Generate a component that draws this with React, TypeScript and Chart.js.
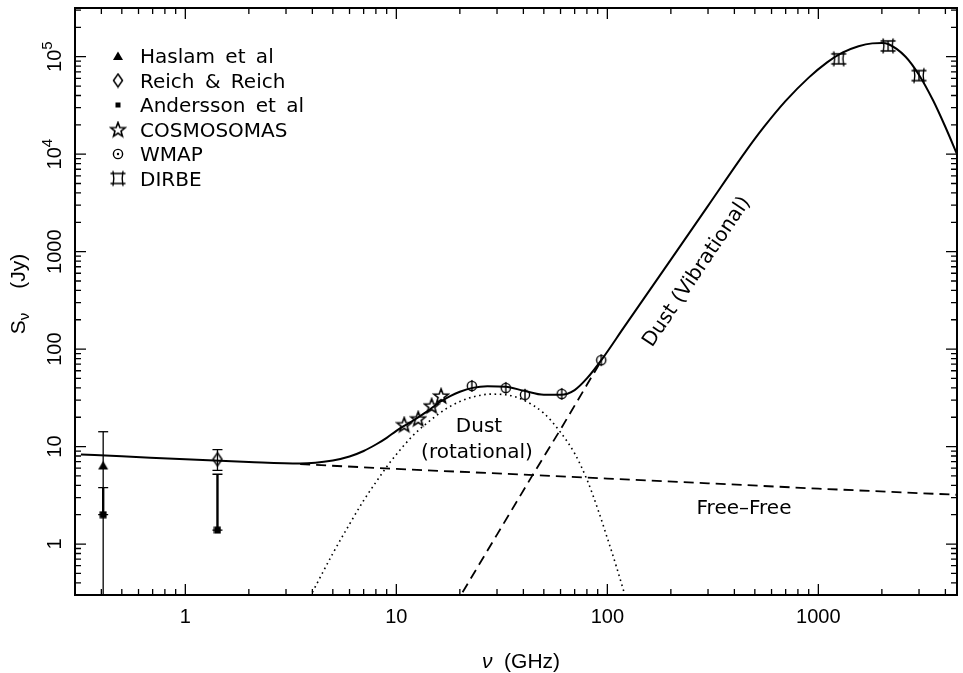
import React, { useEffect, useRef } from 'react';
import { Chart, registerables } from 'chart.js';

Chart.register(...registerables);

// ---------- axis limits ----------
const X_MIN = 0.321;
const X_MAX = 4540;
const Y_MIN = 0.324;
const Y_MAX = 3.16e5;

// ---------- model curves (GHz, Jy) ----------
const totalFreq = [0.32, 0.5, 1, 2, 3.5, 5, 6, 7, 8, 9, 10, 11, 12, 14, 16, 18, 20, 23, 27, 33, 40, 50, 60, 70, 80, 94, 120, 150, 200, 300, 450, 550, 700, 900, 1100, 1300, 1550, 1800, 2000, 2141, 2590, 3000, 3500, 4000, 4540];
const totalFlux = [8.3, 7.95, 7.4, 6.95, 6.7, 7.2, 7.9, 9.0, 10.5, 12.3, 14.5, 16.5, 18.5, 23, 28.5, 33, 36.5, 40, 41.5, 41, 37.5, 34, 34, 38, 50, 78, 168, 337, 829, 2950, 10500, 18800, 35200, 61000, 87500, 110000, 128000, 137000, 138000, 135000, 100000, 65000, 35500, 19000, 10000];

const freeFreeFreq = [3.5, 10, 30, 100, 300, 1000, 4540];
const freeFreeFlux = [6.6, 5.9, 5.3, 4.7, 4.2, 3.7, 3.2];

const rotFreq = [4, 5, 6, 7, 8, 9, 10, 12, 14, 17, 20, 24, 28, 33, 40, 50, 60, 70, 80, 90, 100, 110, 120];
const rotFlux = [0.32, 0.8, 1.6, 2.8, 4.3, 6.2, 8.3, 13, 17.5, 24, 29, 33, 34.5, 34, 30, 22, 14, 8.5, 4.6, 2.3, 1.15, 0.6, 0.32];

const vibFreq = [20.6, 30, 44, 60, 80, 94];
const vibFlux = [0.32, 1.25, 5.0, 15, 43, 77];

// ---------- measurements ----------
const haslamFreq = [0.408];
const haslamFlux = [6.4];
const haslamErrLow = [0.01];
const haslamErrHigh = [14.2];

const reichFreq = [1.42];
const reichFlux = [7.4];
const reichErrLow = [5.7];
const reichErrHigh = [9.3];

const anderssonFreq = [0.408, 1.42];
const anderssonFlux = [2.0, 1.39];
const anderssonErrLow = [2.0, 1.39];
const anderssonErrHigh = [3.8, 5.2];

const cosmoFreq = [10.9, 12.7, 14.7, 16.3];
const cosmoFlux = [16.8, 19.3, 26.2, 33.1];

const wmapFreq = [22.8, 33.0, 40.7, 60.8, 93.5];
const wmapFlux = [41.9, 40.0, 34.0, 34.7, 77.0];

const dirbeFreq = [1249, 2141, 2998];
const dirbeFlux = [95000, 129000, 64000];

// ---------- ticks / labels ----------
const xTickValues = [1, 10, 100, 1000];
const xTickLabels = ['1', '10', '100', '1000'];
const yTickValues = [1, 10, 100, 1000, 1e4, 1e5];
const yTickBase = ['1', '10', '100', '1000', '10', '10'];
const yTickExp = ['', '', '', '', '4', '5'];

const legendLabels = ['Haslam et al', 'Reich & Reich', 'Andersson et al', 'COSMOSOMAS', 'WMAP', 'DIRBE'];

const AXIS_FONT = '"Liberation Sans", Arial, sans-serif';
const TEXT_FONT = '"DejaVu Sans", sans-serif';

function makeCanvas(w: number, h: number, draw: (g: CanvasRenderingContext2D) => void) {
  const c = document.createElement('canvas');
  c.width = w;
  c.height = h;
  const g = c.getContext('2d') as CanvasRenderingContext2D;
  g.strokeStyle = '#000';
  g.fillStyle = '#000';
  draw(g);
  return c;
}

function buildMarkers(bar: boolean) {
  const triangle = makeCanvas(12, 12, (g) => {
    g.beginPath();
    g.moveTo(6, 1.5);
    g.lineTo(11, 10);
    g.lineTo(1, 10);
    g.closePath();
    g.fill();
  });
  const diamond = makeCanvas(12, 16, (g) => {
    g.lineWidth = 1.5;
    g.beginPath();
    g.moveTo(6, 1.5);
    g.lineTo(10.5, 8);
    g.lineTo(6, 14.5);
    g.lineTo(1.5, 8);
    g.closePath();
    g.stroke();
  });
  const square = makeCanvas(bar ? 8 : 6, bar ? 8 : 6, (g) => {
    g.fillRect(0.5, 0.5, bar ? 7 : 5, bar ? 7 : 5);
  });
  const star = makeCanvas(18, 18, (g) => {
    g.lineWidth = 1.6;
    g.beginPath();
    for (let i = 0; i < 10; i++) {
      const r = i % 2 === 0 ? 7.6 : 3.2;
      const a = -Math.PI / 2 + (i * Math.PI) / 5;
      const px = 9 + r * Math.cos(a);
      const py = 9.6 + r * Math.sin(a);
      if (i === 0) g.moveTo(px, py);
      else g.lineTo(px, py);
    }
    g.closePath();
    g.stroke();
  });
  const circle = makeCanvas(14, 14, (g) => {
    g.lineWidth = 1.4;
    g.beginPath();
    g.arc(7, 7, 4.6, 0, Math.PI * 2);
    g.stroke();
    if (bar) {
      g.beginPath();
      g.moveTo(7, 1);
      g.lineTo(7, 13);
      g.stroke();
    } else {
      g.beginPath();
      g.arc(7, 7, 1.2, 0, Math.PI * 2);
      g.fill();
    }
  });
  const dirbe = makeCanvas(18, 18, (g) => {
    g.lineWidth = 1.4;
    const a = 4, b = 14;
    g.beginPath();
    g.moveTo(a - 2.5, a); g.lineTo(b + 2.5, a);
    g.moveTo(a - 2.5, b); g.lineTo(b + 2.5, b);
    g.moveTo(a, a - 2.5); g.lineTo(a + 0.8, 9); g.lineTo(a, b + 2.5);
    g.moveTo(b, a - 2.5); g.lineTo(b - 0.8, 9); g.lineTo(b, b + 2.5);
    if (bar) {
      g.moveTo(9, a); g.lineTo(9, b);
    }
    g.stroke();
  });
  return { triangle, diamond, square, star, circle, dirbe };
}

function pts(xs: number[], ys: number[]) {
  return xs.map((x, i) => ({ x, y: ys[i] }));
}

function drawRunsRotated(
  ctx: CanvasRenderingContext2D,
  baseX: number,
  centerY: number,
  runs: { text: string; font: string; dy?: number; gap?: number }[]
) {
  ctx.save();
  ctx.translate(baseX, centerY);
  ctx.rotate(-Math.PI / 2);
  ctx.textAlign = 'left';
  ctx.textBaseline = 'alphabetic';
  let total = 0;
  runs.forEach((r) => {
    ctx.font = r.font;
    total += ctx.measureText(r.text).width + (r.gap || 0);
  });
  let x = -total / 2;
  runs.forEach((r) => {
    ctx.font = r.font;
    ctx.fillText(r.text, x, r.dy || 0);
    x += ctx.measureText(r.text).width + (r.gap || 0);
  });
  ctx.restore();
}

export default function App() {
  const ref = useRef<HTMLCanvasElement>(null);

  useEffect(() => {
    const canvas = ref.current;
    if (!canvas) return;
    const m = buildMarkers(true);
    const lm = buildMarkers(false);

    const errorSets = [
      { xs: haslamFreq, lo: haslamErrLow, hi: haslamErrHigh, w: 1.3 },
      { xs: reichFreq, lo: reichErrLow, hi: reichErrHigh, w: 1.3 },
      { xs: anderssonFreq, lo: anderssonErrLow, hi: anderssonErrHigh, w: 2.4 },
    ];

    const framePlugin = {
      id: 'frame',
      afterDatasetsDraw(chart: any) {
        const { ctx, chartArea: a, scales } = chart;
        const sx = scales.x, sy = scales.y;
        ctx.save();
        ctx.beginPath();
        ctx.rect(a.left, a.top, a.right - a.left, a.bottom - a.top);
        ctx.clip();
        ctx.strokeStyle = '#000';
        errorSets.forEach((s) => {
          s.xs.forEach((xv, i) => {
            const px = sx.getPixelForValue(xv);
            const p1 = sy.getPixelForValue(s.lo[i]);
            const p2 = sy.getPixelForValue(s.hi[i]);
            ctx.lineWidth = s.w;
            ctx.beginPath();
            ctx.moveTo(px, p1);
            ctx.lineTo(px, p2);
            ctx.stroke();
            ctx.lineWidth = 1.3;
            ctx.beginPath();
            ctx.moveTo(px - 5, p2);
            ctx.lineTo(px + 5, p2);
            if (p1 < a.bottom) {
              ctx.moveTo(px - 5, p1);
              ctx.lineTo(px + 5, p1);
            }
            ctx.stroke();
          });
        });
        ctx.restore();
      },
      afterDraw(chart: any) {
        const { ctx, chartArea: a, scales } = chart;
        const sx = scales.x, sy = scales.y;
        ctx.save();
        ctx.strokeStyle = '#000';
        ctx.fillStyle = '#000';
        ctx.lineWidth = 2;
        ctx.strokeRect(a.left, a.top, a.right - a.left, a.bottom - a.top);

        // ticks
        ctx.lineWidth = 1.3;
        ctx.beginPath();
        for (let d = -1; d <= 3; d++) {
          for (let k = 1; k <= 9; k++) {
            const v = k * Math.pow(10, d);
            if (v < X_MIN || v > X_MAX) continue;
            const px = sx.getPixelForValue(v);
            const len = k === 1 ? 11 : 6;
            ctx.moveTo(px, a.bottom);
            ctx.lineTo(px, a.bottom - len);
            ctx.moveTo(px, a.top);
            ctx.lineTo(px, a.top + len);
          }
        }
        for (let d = -1; d <= 5; d++) {
          for (let k = 1; k <= 9; k++) {
            const v = k * Math.pow(10, d);
            if (v < Y_MIN || v > Y_MAX) continue;
            const py = sy.getPixelForValue(v);
            const len = k === 1 ? 11 : 6;
            ctx.moveTo(a.left, py);
            ctx.lineTo(a.left + len, py);
            ctx.moveTo(a.right, py);
            ctx.lineTo(a.right - len, py);
          }
        }
        ctx.stroke();

        // x tick labels
        ctx.font = `20px ${AXIS_FONT}`;
        ctx.textAlign = 'center';
        ctx.textBaseline = 'alphabetic';
        xTickValues.forEach((v, i) => {
          ctx.fillText(xTickLabels[i], sx.getPixelForValue(v), a.bottom + 28);
        });

        // y tick labels (rotated)
        yTickValues.forEach((v, i) => {
          const runs: any[] = [{ text: yTickBase[i], font: `20px ${AXIS_FONT}` }];
          if (yTickExp[i]) runs.push({ text: yTickExp[i], font: `15px ${AXIS_FONT}`, dy: -9 });
          drawRunsRotated(ctx, 61, sy.getPixelForValue(v), runs);
        });

        // axis titles
        drawRunsRotated(ctx, 25, 294, [
          { text: 'S', font: `21px ${AXIS_FONT}` },
          { text: 'ν', font: `15px ${AXIS_FONT}`, dy: 4, gap: 24 },
          { text: '(Jy)', font: `21px ${AXIS_FONT}` },
        ]);
        ctx.textAlign = 'left';
        ctx.font = `italic 21px ${AXIS_FONT}`;
        const w1 = ctx.measureText('ν').width;
        ctx.font = `21px ${AXIS_FONT}`;
        const w2 = ctx.measureText('  (GHz)').width;
        const startX = 521 - (w1 + w2) / 2;
        ctx.font = `italic 21px ${AXIS_FONT}`;
        ctx.fillText('ν', startX, 668);
        ctx.font = `21px ${AXIS_FONT}`;
        ctx.fillText('  (GHz)', startX + w1, 668);

        // legend
        const legendMarkers = [lm.triangle, lm.diamond, lm.square, lm.star, lm.circle, lm.dirbe];
        ctx.font = `20px ${TEXT_FONT}`;
        (ctx as any).wordSpacing = '4px';
        ctx.textAlign = 'left';
        legendLabels.forEach((lab, i) => {
          const cy = 56 + i * 24.5;
          const mk = legendMarkers[i];
          ctx.drawImage(mk, 118 - mk.width / 2, cy - mk.height / 2);
          ctx.fillText(lab, 140, cy + 7);
        });
        (ctx as any).wordSpacing = '0px';

        // annotations
        ctx.font = `20px ${TEXT_FONT}`;
        ctx.textAlign = 'center';
        ctx.fillText('Dust', 479, 432);
        ctx.fillText('(rotational)', 477, 458);
        ctx.fillText('Free–Free', 744, 514);
        ctx.save();
        ctx.translate(697, 272);
        ctx.rotate((-56 * Math.PI) / 180);
        ctx.textBaseline = 'middle';
        ctx.fillText('Dust (Vibrational)', 0, 0);
        ctx.restore();

        ctx.restore();
      },
    };

    const lineBase = {
      showLine: true,
      pointRadius: 0,
      borderColor: '#000',
      backgroundColor: '#000',
      fill: false,
    };
    const markerBase = (style: HTMLCanvasElement) => ({
      showLine: false,
      pointStyle: style,
      pointRadius: 5,
      borderColor: '#000',
      backgroundColor: '#000',
    });

    const chart = new Chart(canvas, {
      type: 'scatter',
      data: {
        datasets: [
          { ...lineBase, label: 'Free-Free', data: pts(freeFreeFreq, freeFreeFlux), borderWidth: 1.8, borderDash: [10, 6] },
          { ...lineBase, label: 'Dust (rotational)', data: pts(rotFreq, rotFlux), borderWidth: 1.6, borderDash: [1.6, 3.6], cubicInterpolationMode: 'monotone' },
          { ...lineBase, label: 'Dust (Vibrational)', data: pts(vibFreq, vibFlux), borderWidth: 1.8, borderDash: [10, 6] },
          { ...lineBase, label: 'Total', data: pts(totalFreq, totalFlux), borderWidth: 2, cubicInterpolationMode: 'monotone' },
          { ...markerBase(m.triangle), label: 'Haslam et al', data: pts(haslamFreq, haslamFlux) },
          { ...markerBase(m.diamond), label: 'Reich & Reich', data: pts(reichFreq, reichFlux) },
          { ...markerBase(m.square), label: 'Andersson et al', data: pts(anderssonFreq, anderssonFlux) },
          { ...markerBase(m.star), label: 'COSMOSOMAS', data: pts(cosmoFreq, cosmoFlux) },
          { ...markerBase(m.circle), label: 'WMAP', data: pts(wmapFreq, wmapFlux) },
          { ...markerBase(m.dirbe), label: 'DIRBE', data: pts(dirbeFreq, dirbeFlux) },
        ] as any,
      },
      options: {
        animation: false,
        responsive: false,
        devicePixelRatio: 1,
        layout: { padding: { left: 75, top: 8, right: 4, bottom: 78 } },
        scales: {
          x: { type: 'logarithmic', min: X_MIN, max: X_MAX, display: false },
          y: { type: 'logarithmic', min: Y_MIN, max: Y_MAX, display: false },
        },
        plugins: {
          legend: { display: false },
          tooltip: { enabled: false },
        },
      } as any,
      plugins: [framePlugin],
    });
    return () => chart.destroy();
  }, []);

  return (
    <div style={{ position: 'absolute', left: 0, top: 0, width: 963, height: 673, background: '#fff' }}>
      <canvas ref={ref} width={963} height={673} style={{ display: 'block' }} />
    </div>
  );
}
